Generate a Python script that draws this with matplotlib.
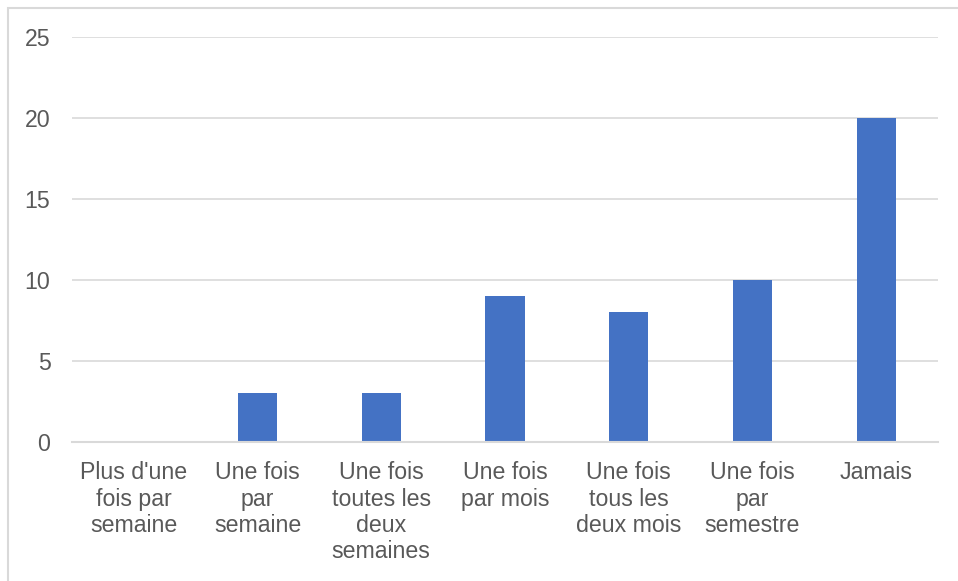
import matplotlib.pyplot as plt
from matplotlib.patches import Rectangle
import numpy as np

categories = ["Plus d'une\nfois par\nsemaine", "Une fois\npar\nsemaine",
              "Une fois\ntoutes les\ndeux\nsemaines", "Une fois\npar mois",
              "Une fois\ntous les\ndeux mois", "Une fois\npar\nsemestre", "Jamais"]
values = [0, 3, 3, 9, 8, 10, 20]
yticks = [0, 5, 10, 15, 20, 25]

text_color = "#595959"
grid_color = "#d9d9d9"
bar_color = "#4472c4"

plt.rcParams['font.family'] = ['Liberation Sans', 'DejaVu Sans']

fig = plt.figure(figsize=(9.58, 5.81), dpi=100)
ax = fig.add_axes([72 / 958, 1 - 442 / 581, (938 - 72) / 958, (442 - 37) / 581])

x = np.arange(len(categories))
ax.bar(x, values, width=0.316, color=bar_color, zorder=3)

ax.set_xlim(-0.5, len(categories) - 0.5)
ax.set_ylim(0, 25)
ax.set_yticks(yticks)
ax.set_xticks(x)
ax.set_xticklabels(categories, fontsize=16.7, color=text_color, linespacing=1.17)
ax.tick_params(axis='y', labelsize=16.7, labelcolor=text_color, length=0, pad=15.5)
ax.tick_params(axis='x', length=0, pad=14)
ax.grid(axis='y', color=grid_color, linewidth=1.2, zorder=0)

for s in ['top', 'right', 'left']:
    ax.spines[s].set_visible(False)
ax.spines['bottom'].set_color(grid_color)
ax.spines['bottom'].set_linewidth(1.5)
ax.spines['bottom'].set_zorder(4)

# chart frame
fig.patches.append(Rectangle((7.5 / 958, -0.1), 1.1, 1 - 7.5 / 581 + 0.1,
                             transform=fig.transFigure, fill=False,
                             edgecolor=grid_color, linewidth=1.5))

fig.savefig("out.png", dpi=100)
